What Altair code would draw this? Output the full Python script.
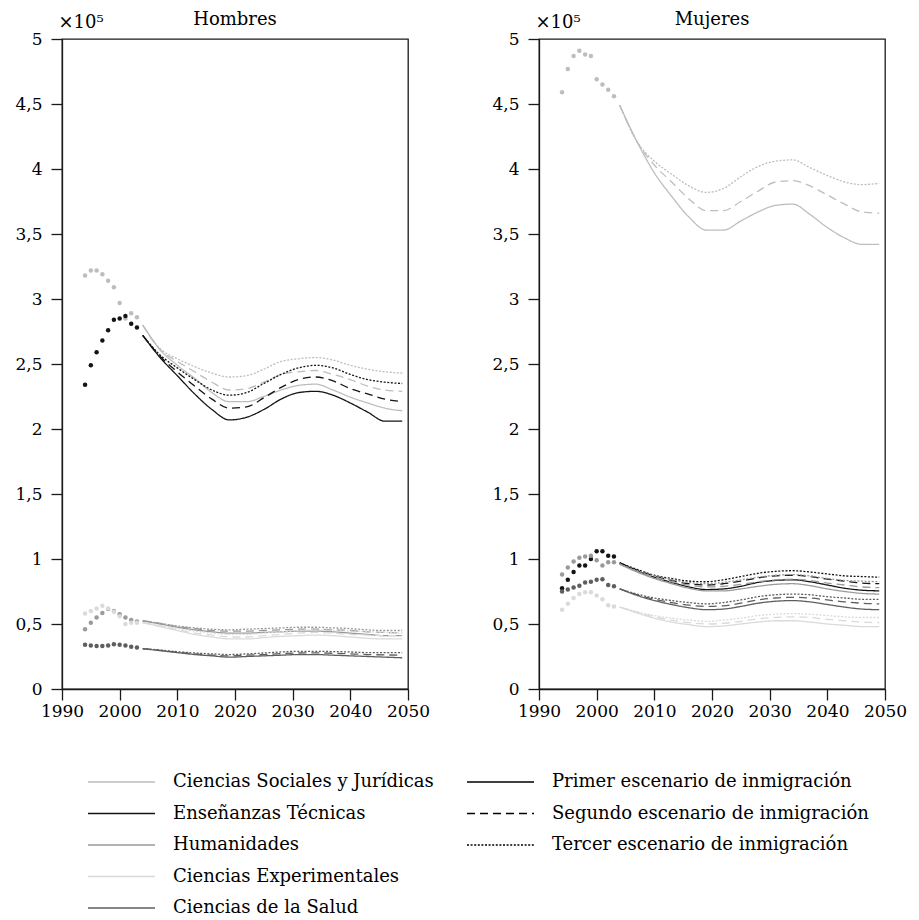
import altair as alt
import pandas as pd

# ---------------------------------------------------------------------------
# Alumnos universitarios por rama de enseñanza (x 10^5): datos observados
# 1994-2003 y proyecciones 2004-2049 bajo tres escenarios de inmigración.
# ---------------------------------------------------------------------------

SEXES = ["Hombres", "Mujeres"]
CATEGORIES = [
    "Ciencias Sociales y Jurídicas",
    "Enseñanzas Técnicas",
    "Humanidades",
    "Ciencias Experimentales",
    "Ciencias de la Salud",
]
CATEGORY_COLORS = ["#bdbdbd", "#141414", "#9a9a9a", "#dadada", "#5e5e5e"]
SCENARIOS = [
    "Primer escenario de inmigración",
    "Segundo escenario de inmigración",
    "Tercer escenario de inmigración",
]
SCENARIO_DASHES = [[1, 0], [8, 5], [2, 1.6]]

YEARS_OBS = [1994, 1995, 1996, 1997, 1998, 1999, 2000, 2001, 2002, 2003]
YEARS_PROJ = [2004, 2007, 2010, 2013, 2016, 2019, 2022, 2025,
              2028, 2031, 2034, 2037, 2040, 2043, 2046, 2049]

X_TICKS = [1990, 2000, 2010, 2020, 2030, 2040, 2050]
Y_TICKS = [0, 0.5, 1, 1.5, 2, 2.5, 3, 3.5, 4, 4.5, 5]

# --- Hombres, observado -----------------------------------------------------
h_obs_soc = [3.18, 3.22, 3.22, 3.19, 3.14, 3.09, 2.97, 2.85, 2.89, 2.86]
h_obs_tec = [2.34, 2.49, 2.59, 2.68, 2.76, 2.84, 2.85, 2.87, 2.81, 2.78]
h_obs_hum = [0.46, 0.51, 0.55, 0.585, 0.615, 0.60, 0.575, 0.55, 0.53, 0.52]
h_obs_exp = [0.58, 0.60, 0.62, 0.64, 0.62, 0.595, 0.56, 0.50, 0.51, 0.51]
h_obs_sal = [0.34, 0.335, 0.33, 0.33, 0.335, 0.345, 0.34, 0.335, 0.325, 0.32]

# --- Hombres, proyecciones (escenarios 1, 2, 3) -----------------------------
h_soc_1 = [2.80, 2.61, 2.49, 2.39, 2.28, 2.21, 2.21, 2.25, 2.30, 2.335, 2.345, 2.30, 2.245, 2.20, 2.16, 2.14]
h_soc_2 = [2.80, 2.61, 2.52, 2.44, 2.36, 2.30, 2.31, 2.36, 2.42, 2.44, 2.45, 2.42, 2.38, 2.33, 2.30, 2.29]
h_soc_3 = [2.80, 2.62, 2.54, 2.48, 2.43, 2.40, 2.41, 2.46, 2.52, 2.54, 2.55, 2.53, 2.49, 2.46, 2.44, 2.43]

h_tec_1 = [2.72, 2.55, 2.41, 2.27, 2.15, 2.07, 2.09, 2.15, 2.23, 2.28, 2.29, 2.26, 2.20, 2.13, 2.06, 2.06]
h_tec_2 = [2.72, 2.56, 2.44, 2.33, 2.23, 2.16, 2.17, 2.24, 2.32, 2.38, 2.40, 2.37, 2.31, 2.27, 2.23, 2.21]
h_tec_3 = [2.72, 2.57, 2.47, 2.38, 2.30, 2.26, 2.28, 2.35, 2.42, 2.47, 2.49, 2.47, 2.42, 2.38, 2.36, 2.35]

h_hum_1 = [0.525, 0.50, 0.475, 0.455, 0.44, 0.43, 0.43, 0.435, 0.44, 0.445, 0.445, 0.44, 0.43, 0.42, 0.41, 0.41]
h_hum_2 = [0.525, 0.505, 0.48, 0.465, 0.45, 0.445, 0.445, 0.45, 0.455, 0.46, 0.46, 0.455, 0.45, 0.44, 0.435, 0.43]
h_hum_3 = [0.525, 0.505, 0.485, 0.47, 0.46, 0.455, 0.46, 0.465, 0.47, 0.475, 0.475, 0.47, 0.465, 0.455, 0.45, 0.45]

h_exp_1 = [0.51, 0.48, 0.45, 0.42, 0.40, 0.385, 0.385, 0.395, 0.405, 0.41, 0.415, 0.41, 0.40, 0.39, 0.385, 0.385]
h_exp_2 = [0.51, 0.485, 0.455, 0.43, 0.415, 0.40, 0.40, 0.41, 0.42, 0.43, 0.435, 0.43, 0.42, 0.415, 0.41, 0.41]
h_exp_3 = [0.51, 0.49, 0.465, 0.445, 0.43, 0.42, 0.42, 0.43, 0.44, 0.45, 0.455, 0.45, 0.445, 0.44, 0.435, 0.43]

h_sal_1 = [0.31, 0.295, 0.28, 0.265, 0.255, 0.245, 0.25, 0.255, 0.26, 0.265, 0.265, 0.26, 0.255, 0.25, 0.245, 0.24]
h_sal_2 = [0.31, 0.297, 0.283, 0.27, 0.26, 0.255, 0.26, 0.265, 0.272, 0.277, 0.278, 0.275, 0.27, 0.265, 0.262, 0.26]
h_sal_3 = [0.31, 0.30, 0.287, 0.277, 0.27, 0.265, 0.27, 0.277, 0.285, 0.29, 0.29, 0.288, 0.285, 0.28, 0.28, 0.28]

# --- Mujeres, observado -----------------------------------------------------
m_obs_soc = [4.59, 4.77, 4.87, 4.91, 4.88, 4.87, 4.69, 4.65, 4.61, 4.56]
m_obs_tec = [0.775, 0.84, 0.90, 0.95, 0.95, 1.00, 1.06, 1.06, 1.025, 1.02]
m_obs_hum = [0.88, 0.935, 0.98, 1.01, 1.02, 1.025, 0.99, 0.95, 0.975, 0.975]
m_obs_exp = [0.61, 0.655, 0.70, 0.73, 0.745, 0.745, 0.72, 0.69, 0.645, 0.635]
m_obs_sal = [0.75, 0.765, 0.78, 0.795, 0.82, 0.825, 0.84, 0.845, 0.80, 0.79]

# --- Mujeres, proyecciones (escenarios 1, 2, 3) -----------------------------
m_soc_1 = [4.49, 4.21, 3.97, 3.79, 3.63, 3.53, 3.53, 3.60, 3.67, 3.72, 3.73, 3.65, 3.55, 3.47, 3.42, 3.42]
m_soc_2 = [4.49, 4.21, 4.03, 3.90, 3.77, 3.68, 3.68, 3.75, 3.83, 3.90, 3.91, 3.87, 3.80, 3.73, 3.67, 3.66]
m_soc_3 = [4.49, 4.21, 4.06, 3.96, 3.87, 3.82, 3.85, 3.94, 4.02, 4.06, 4.07, 4.01, 3.95, 3.90, 3.88, 3.89]

m_tec_1 = [0.97, 0.91, 0.86, 0.82, 0.785, 0.765, 0.77, 0.79, 0.82, 0.835, 0.84, 0.825, 0.80, 0.775, 0.76, 0.755]
m_tec_2 = [0.97, 0.915, 0.87, 0.835, 0.81, 0.80, 0.81, 0.83, 0.855, 0.87, 0.875, 0.865, 0.845, 0.83, 0.815, 0.81]
m_tec_3 = [0.97, 0.92, 0.875, 0.85, 0.83, 0.825, 0.84, 0.865, 0.89, 0.905, 0.91, 0.90, 0.885, 0.87, 0.865, 0.86]

m_hum_1 = [0.96, 0.90, 0.85, 0.81, 0.775, 0.755, 0.755, 0.77, 0.79, 0.805, 0.81, 0.795, 0.77, 0.75, 0.735, 0.73]
m_hum_2 = [0.96, 0.905, 0.86, 0.825, 0.80, 0.785, 0.79, 0.805, 0.825, 0.84, 0.845, 0.835, 0.815, 0.80, 0.785, 0.78]
m_hum_3 = [0.96, 0.91, 0.87, 0.84, 0.82, 0.81, 0.82, 0.84, 0.86, 0.875, 0.88, 0.87, 0.85, 0.835, 0.83, 0.825]

m_exp_1 = [0.63, 0.585, 0.545, 0.515, 0.495, 0.48, 0.485, 0.50, 0.515, 0.525, 0.525, 0.515, 0.50, 0.49, 0.48, 0.48]
m_exp_2 = [0.63, 0.59, 0.555, 0.53, 0.51, 0.50, 0.505, 0.52, 0.54, 0.55, 0.555, 0.55, 0.535, 0.525, 0.515, 0.51]
m_exp_3 = [0.63, 0.595, 0.565, 0.545, 0.53, 0.52, 0.53, 0.545, 0.565, 0.575, 0.58, 0.575, 0.565, 0.555, 0.55, 0.55]

m_sal_1 = [0.77, 0.72, 0.68, 0.65, 0.625, 0.61, 0.615, 0.635, 0.66, 0.675, 0.68, 0.67, 0.65, 0.63, 0.615, 0.61]
m_sal_2 = [0.77, 0.725, 0.69, 0.665, 0.645, 0.635, 0.64, 0.66, 0.685, 0.70, 0.705, 0.70, 0.685, 0.67, 0.66, 0.655]
m_sal_3 = [0.77, 0.73, 0.70, 0.68, 0.665, 0.655, 0.665, 0.685, 0.71, 0.725, 0.73, 0.725, 0.71, 0.70, 0.69, 0.69]

OBSERVED = {
    "Hombres": [h_obs_soc, h_obs_tec, h_obs_hum, h_obs_exp, h_obs_sal],
    "Mujeres": [m_obs_soc, m_obs_tec, m_obs_hum, m_obs_exp, m_obs_sal],
}
PROJECTED = {
    "Hombres": [
        [h_soc_1, h_soc_2, h_soc_3],
        [h_tec_1, h_tec_2, h_tec_3],
        [h_hum_1, h_hum_2, h_hum_3],
        [h_exp_1, h_exp_2, h_exp_3],
        [h_sal_1, h_sal_2, h_sal_3],
    ],
    "Mujeres": [
        [m_soc_1, m_soc_2, m_soc_3],
        [m_tec_1, m_tec_2, m_tec_3],
        [m_hum_1, m_hum_2, m_hum_3],
        [m_exp_1, m_exp_2, m_exp_3],
        [m_sal_1, m_sal_2, m_sal_3],
    ],
}

# Long-format tables
obs_rows, proj_rows = [], []
for sex in SEXES:
    for ci, cat in enumerate(CATEGORIES):
        for yr, v in zip(YEARS_OBS, OBSERVED[sex][ci]):
            obs_rows.append({"sex": sex, "category": cat, "year": yr, "value": v})
        for si, scen in enumerate(SCENARIOS):
            for yr, v in zip(YEARS_PROJ, PROJECTED[sex][ci][si]):
                proj_rows.append({"sex": sex, "category": cat, "scenario": scen,
                                  "year": yr, "value": v})
obs_df = pd.DataFrame(obs_rows)
proj_df = pd.DataFrame(proj_rows)

FONT = "DejaVu Serif"
INK = "#1a1a1a"

color_scale = alt.Scale(domain=CATEGORIES, range=CATEGORY_COLORS)
dash_scale = alt.Scale(domain=SCENARIOS, range=SCENARIO_DASHES)

x_axis = alt.Axis(values=X_TICKS, format="d", title=None, tickSize=11,
                  labelPadding=3, labelFlush=False)
y_axis = alt.Axis(values=Y_TICKS, title="×10⁵", titleAngle=0, titleAlign="left",
                  titleBaseline="alphabetic", titleX=-4, titleY=-12,
                  titleFont=FONT, titleFontSize=18, titleFontWeight="normal",
                  titleColor="black", tickSize=11, labelPadding=9,
                  labelExpr="replace(format(datum.value, '~g'), '.', ',')")

legend_common = dict(
    title=None, orient="none", legendY=733, symbolType="stroke",
    symbolSize=4489, symbolStrokeWidth=1.4, clipHeight=20, rowPadding=11.5,
    labelOffset=17, labelFont=FONT, labelFontSize=18, labelColor="black",
    labelLimit=400,
)
color_legend = alt.Legend(legendX=25, **legend_common)
dash_legend = alt.Legend(legendX=404, symbolStrokeColor="black", **legend_common)


def panel(sex):
    lines = alt.Chart(proj_df[proj_df["sex"] == sex]).mark_line(
        strokeWidth=1.3, interpolate="monotone"
    ).encode(
        x=alt.X("year:Q", scale=alt.Scale(domain=[1990, 2050], nice=False, zero=False),
                axis=x_axis),
        y=alt.Y("value:Q", scale=alt.Scale(domain=[0, 5], nice=False), axis=y_axis),
        color=alt.Color("category:N", scale=color_scale, legend=color_legend),
        strokeDash=alt.StrokeDash("scenario:N", scale=dash_scale, legend=dash_legend),
        detail="scenario:N",
    )
    dots = alt.Chart(obs_df[obs_df["sex"] == sex]).mark_circle(
        size=20, opacity=1
    ).encode(
        x="year:Q",
        y="value:Q",
        fill=alt.Fill("category:N", scale=color_scale, legend=None),
    )
    return alt.layer(lines, dots).properties(
        width=346, height=650,
        title=alt.TitleParams(sex, font=FONT, fontSize=18, fontWeight="normal",
                              color="black", anchor="middle", offset=0, dy=16),
    )


chart = alt.hconcat(panel("Hombres"), panel("Mujeres"), spacing=60).properties(
    padding={"left": 14, "top": 10, "right": 5, "bottom": 5},
    background="white",
).configure_view(
    stroke=INK, strokeWidth=1.3
).configure_axis(
    domainColor=INK, domainWidth=1.3, tickColor=INK, tickWidth=1.3, grid=False,
    labelFont=FONT, labelFontSize=17, labelColor="black",
)

chart.save("out.html", embed_options={"renderer": "svg", "actions": False})
